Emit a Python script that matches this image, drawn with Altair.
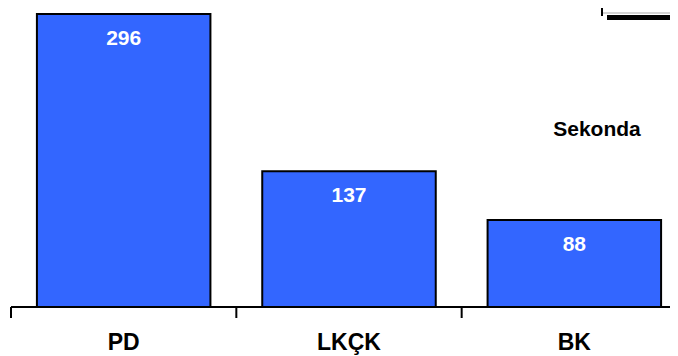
import altair as alt
import pandas as pd

categories = ["PD", "LKÇK", "BK"]
values = [296, 137, 88]
unit_label = "Sekonda"

df = pd.DataFrame({"cat": categories, "val": values})

FONT = "Liberation Sans"
BLUE = "#3366FF"

x_scale = alt.Scale(range=[0, 676], paddingInner=0, paddingOuter=0)

x_enc = alt.X(
    "cat:N",
    sort=categories,
    scale=x_scale,
    axis=alt.Axis(
        title=None,
        labelAngle=0,
        labelFont=FONT,
        labelFontSize=23,
        labelFontWeight="bold",
        labelColor="black",
        labelPadding=24,
        ticks=False,
        domain=False,
        grid=False,
    ),
)
y_enc = alt.Y("val:Q", scale=alt.Scale(domain=[0, 300], nice=False), axis=None)

bars = alt.Chart(df).mark_bar(
    color=BLUE, stroke="black", strokeWidth=2, width=alt.RelativeBandSize(0.77)
).encode(x=x_enc, y=y_enc)

# baseline of the category axis
one = pd.DataFrame({"a": [0]})
baseline = alt.Chart(one).mark_rule(color="black", strokeWidth=2).encode(
    x=alt.value(0), x2=alt.value(680), y=alt.value(297),
)

# axis ticks at the start of each category band
ticks = alt.Chart(df).mark_rule(color="black", strokeWidth=2).encode(
    x=alt.X("cat:N", sort=categories, bandPosition=0),
    y=alt.value(297), y2=alt.value(308),
)

labels = alt.Chart(df).mark_text(
    font=FONT, fontSize=21, fontWeight="bold", color="white",
    baseline="alphabetic", dy=31
).encode(x=alt.X("cat:N", sort=categories), y="val:Q", text="val:Q")

unit = alt.Chart(pd.DataFrame({"t": [unit_label]})).mark_text(
    font=FONT, fontSize=21, fontWeight="bold", color="black",
    baseline="alphabetic", align="center"
).encode(x=alt.value(586), y=alt.value(126), text="t:N")

# partially visible legend box at the top right
box_v = alt.Chart(one).mark_rect(color="black").encode(
    x=alt.value(590), x2=alt.value(592), y=alt.value(-10), y2=alt.value(6))
box_h = alt.Chart(one).mark_rect(color="#aaaaaa").encode(
    x=alt.value(592), x2=alt.value(680), y=alt.value(2.5), y2=alt.value(3.5))
box_s = alt.Chart(one).mark_rect(color="black").encode(
    x=alt.value(596), x2=alt.value(680), y=alt.value(5), y2=alt.value(10))

chart = alt.layer(bars, baseline, ticks, labels, unit, box_v, box_h, box_s).properties(
    width=659,
    height=297,
    background="white",
    autosize=alt.AutoSizeParams(type="none"),
    padding={"left": 3, "top": 2, "right": 0, "bottom": 49},
).configure_view(strokeWidth=0)

chart.save("out.html", embed_options={"renderer": "svg", "actions": False})
